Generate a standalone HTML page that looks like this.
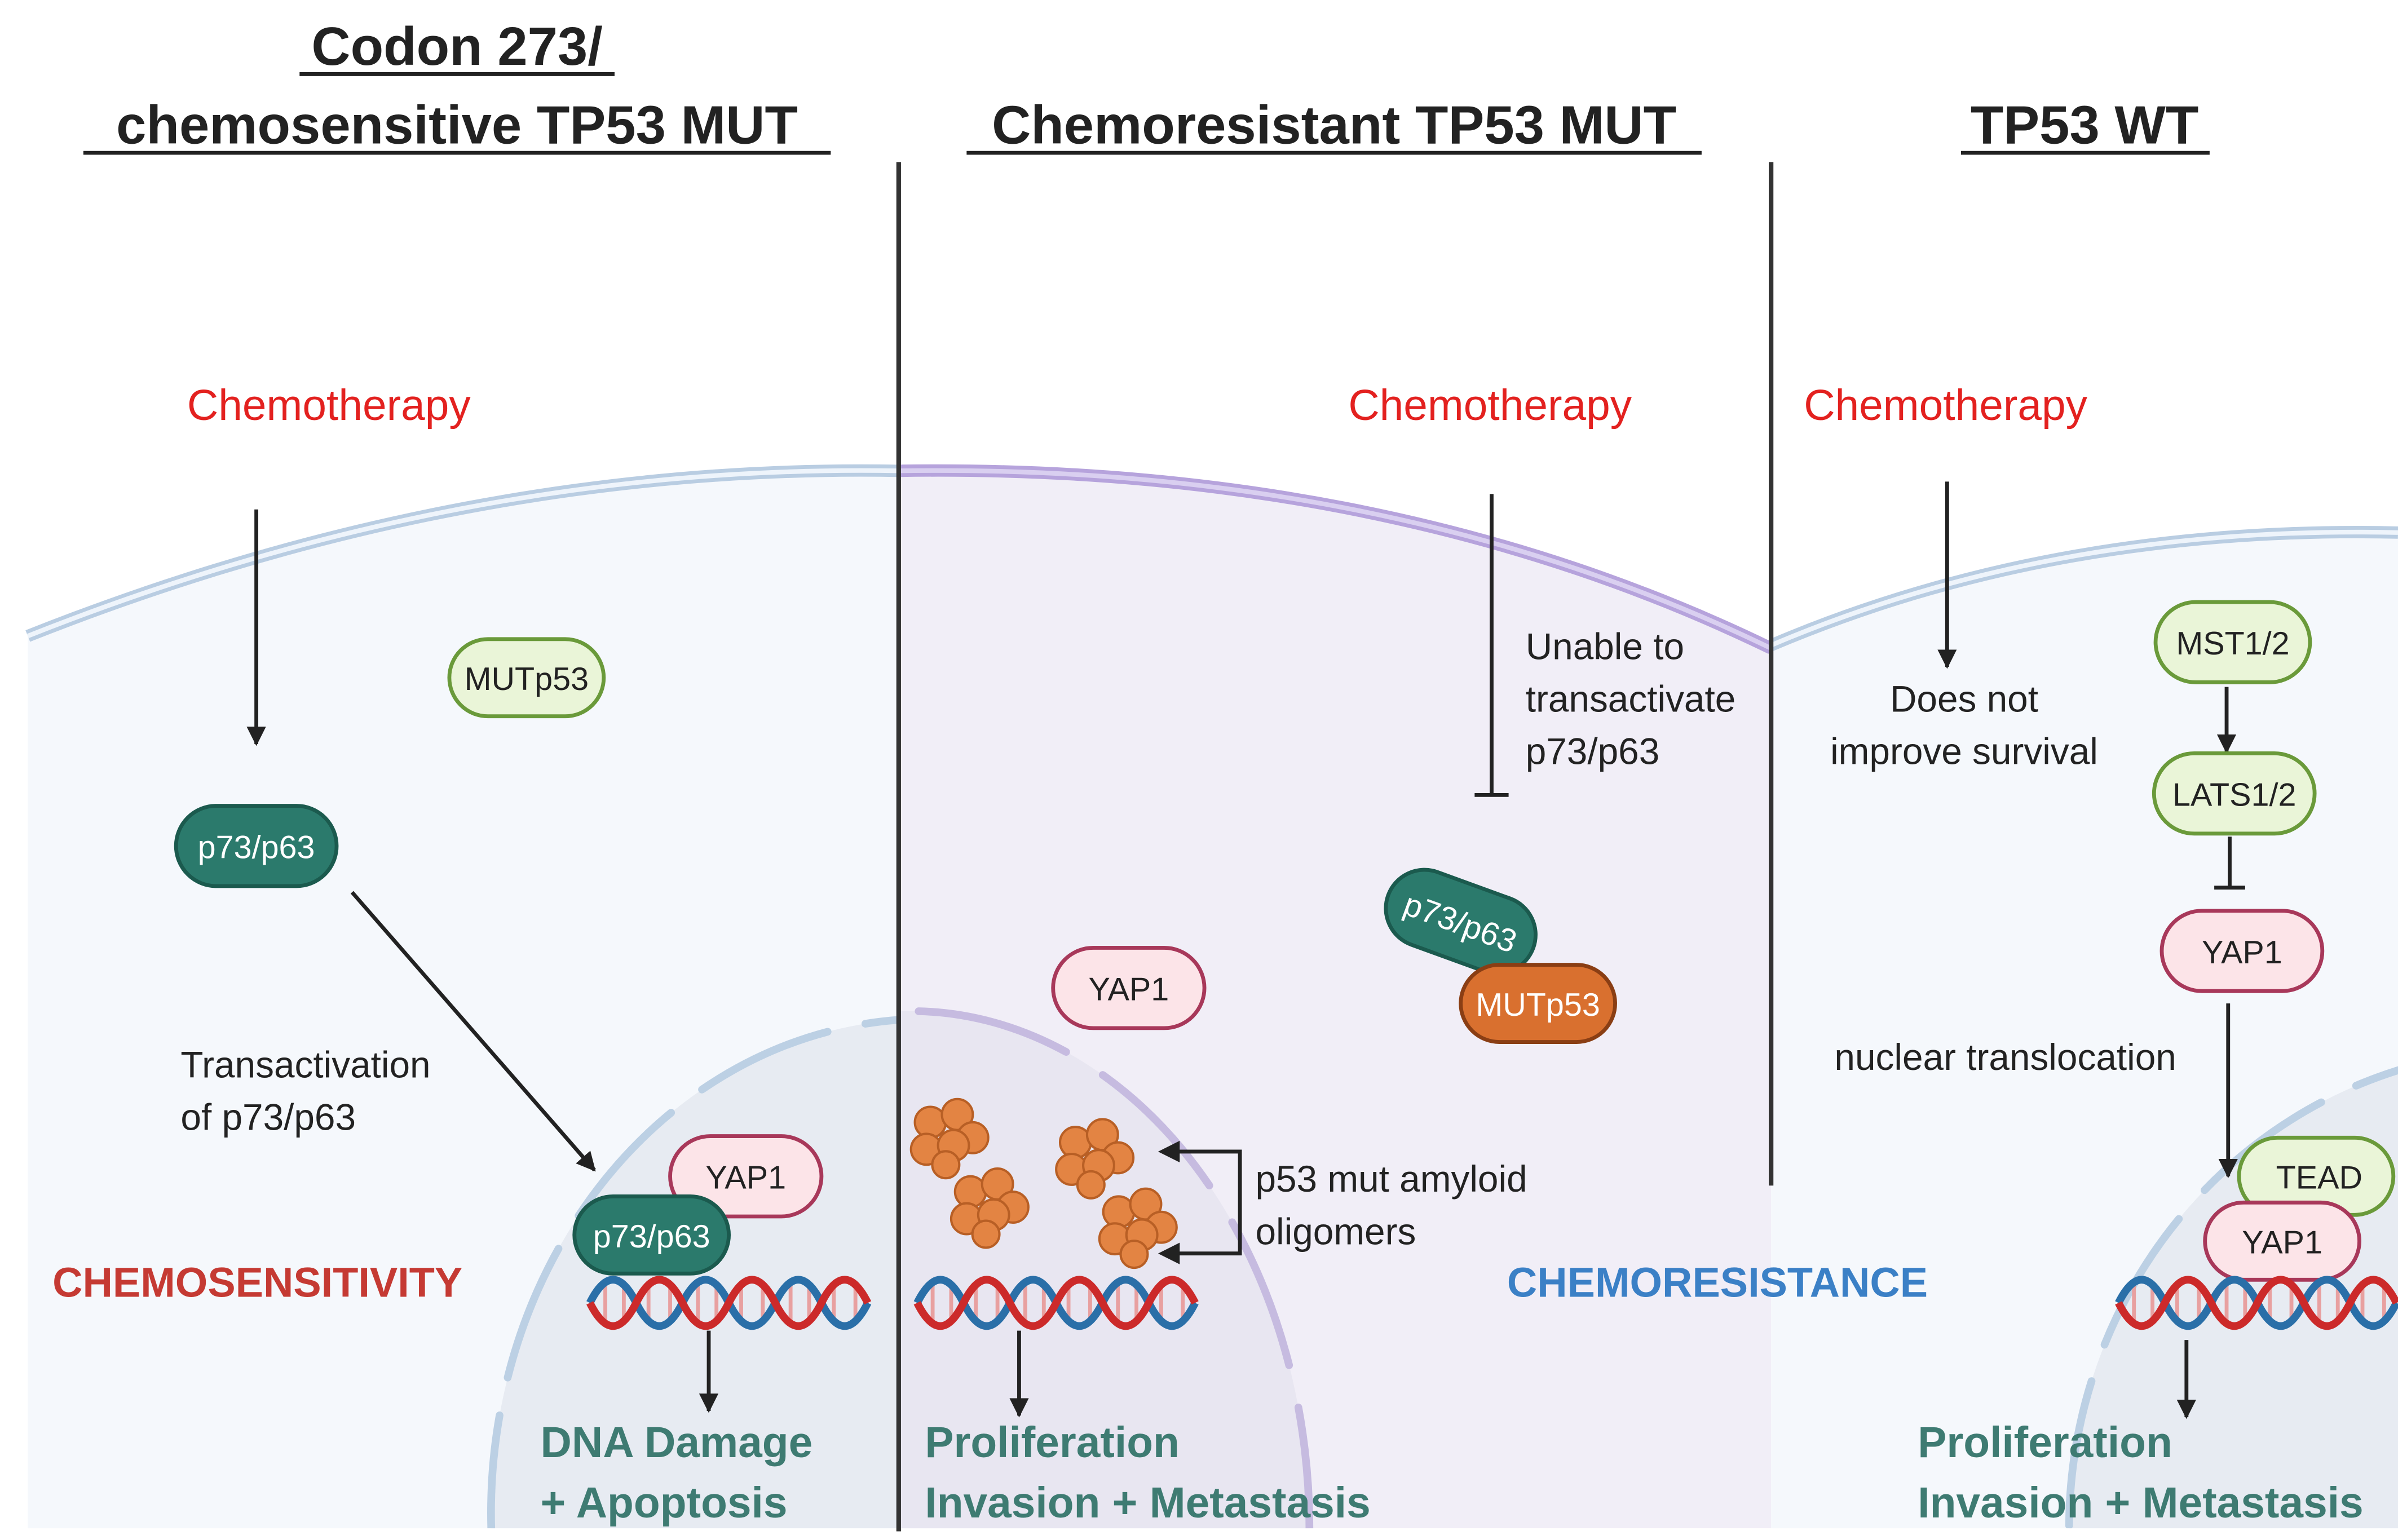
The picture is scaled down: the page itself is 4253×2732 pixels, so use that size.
<!DOCTYPE html>
<html><head><meta charset="utf-8"><style>
html,body{margin:0;padding:0;background:#fff;width:4253px;height:2732px;overflow:hidden}
svg{display:block}
text{font-family:"Liberation Sans",Arial,sans-serif}
</style></head><body>
<svg width="4253" height="2732" viewBox="0 0 1553 997.6" xmlns="http://www.w3.org/2000/svg">
<defs>
<marker id="ah" viewBox="0 0 10 10" refX="9" refY="5" markerWidth="5" markerHeight="5" orient="auto"><path d="M0,0 L10,5 L0,10 z" fill="#222"/></marker>
</defs>
<rect width="1553" height="997.6" fill="#fff"/>
<path d="M18,412 Q300,300 582,305 L582,990 L18,990 Z" fill="#f5f8fc"/>
<path d="M582,305 Q900,300 1147,420 L1147,990 L582,990 Z" fill="#f1eef7"/>
<path d="M1147,418 Q1330,340 1553,345 L1553,990 L1147,990 Z" fill="#f5f8fc"/>
<path d="M18,412 Q300,300 582,305" fill="none" stroke="#b9cde2" stroke-width="8"/>
<path d="M18,412 Q300,300 582,305" fill="none" stroke="#eef4fb" stroke-width="3"/>
<path d="M582,305 Q900,300 1147,420" fill="none" stroke="#b6a3dc" stroke-width="8"/>
<path d="M582,305 Q900,300 1147,420" fill="none" stroke="#d9cff0" stroke-width="3"/>
<path d="M1147,418 Q1330,340 1553,345" fill="none" stroke="#b9cde2" stroke-width="8"/>
<path d="M1147,418 Q1330,340 1553,345" fill="none" stroke="#eef4fb" stroke-width="3"/>
<clipPath id="c1"><rect x="18" y="0" width="564" height="990"/></clipPath>
<clipPath id="c2"><rect x="582" y="0" width="565" height="990"/></clipPath>
<clipPath id="c3"><rect x="1147" y="0" width="406" height="990"/></clipPath>
<g clip-path="url(#c1)">
<ellipse cx="600" cy="980" rx="282" ry="320" fill="#e7ebf2"/>
<ellipse cx="600" cy="980" rx="282" ry="320" fill="none" stroke="#bcd0e4" stroke-width="5" stroke-dasharray="90 25" stroke-linecap="round"/>
</g>
<g clip-path="url(#c2)">
<ellipse cx="590" cy="990" rx="258" ry="335" fill="#e8e6f1"/>
<ellipse cx="590" cy="990" rx="258" ry="335" fill="none" stroke="#c6bbe0" stroke-width="5" stroke-dasharray="100 28" stroke-linecap="round"/>
</g>
<g clip-path="url(#c3)">
<ellipse cx="1640" cy="990" rx="300" ry="310" fill="#e7ebf2"/>
<ellipse cx="1640" cy="990" rx="300" ry="310" fill="none" stroke="#bcd0e4" stroke-width="5" stroke-dasharray="95 25" stroke-linecap="round"/>
</g>
<line x1="582" y1="105" x2="582" y2="992" stroke="#333" stroke-width="3"/>
<line x1="1147" y1="105" x2="1147" y2="768" stroke="#333" stroke-width="3"/>
<g font-weight="bold" font-size="35" fill="#222" text-anchor="middle">
<text x="296" y="42">Codon 273/</text>
<text x="296" y="93">chemosensitive TP53  MUT</text>
<text x="864" y="93">Chemoresistant TP53 MUT</text>
<text x="1350" y="93">TP53 WT</text>
</g>
<g stroke="#222" stroke-width="2.5">
<line x1="194" y1="48" x2="398" y2="48"/>
<line x1="54" y1="99" x2="538" y2="99"/>
<line x1="626" y1="99" x2="1102" y2="99"/>
<line x1="1270" y1="99" x2="1431" y2="99"/>
</g>
<g fill="#e3211f" font-size="28" text-anchor="middle">
<text x="213" y="272">Chemotherapy</text>
<text x="965" y="272">Chemotherapy</text>
<text x="1260" y="272">Chemotherapy</text>
</g>
<g stroke="#222" stroke-width="2.5" fill="none">
<line x1="166" y1="330" x2="166" y2="482" marker-end="url(#ah)"/>
<line x1="228" y1="578" x2="385" y2="758" marker-end="url(#ah)"/>
<line x1="459" y1="862" x2="459" y2="914" marker-end="url(#ah)"/>
<line x1="660" y1="862" x2="660" y2="917" marker-end="url(#ah)"/>
<line x1="966" y1="320" x2="966" y2="515"/>
<line x1="955" y1="515" x2="977" y2="515"/>
<line x1="1261" y1="312" x2="1261" y2="432" marker-end="url(#ah)"/>
<line x1="1442" y1="445" x2="1442" y2="487" marker-end="url(#ah)"/>
<line x1="1444" y1="542" x2="1444" y2="575"/>
<line x1="1434" y1="575" x2="1454" y2="575"/>
<line x1="1443" y1="650" x2="1443" y2="762" marker-end="url(#ah)"/>
<line x1="1416" y1="868" x2="1416" y2="918" marker-end="url(#ah)"/>
<polyline points="755,746 803,746 803,812 755,812"/>
</g>
<path d="M750,746 l14,-7 l0,14 z M750,812 l14,-7 l0,14 z" fill="#222"/>
<g font-size="24" fill="#222">
<text x="117" y="698">Transactivation</text>
<text x="117" y="732">of p73/p63</text>
<text x="813" y="772">p53 mut amyloid</text>
<text x="813" y="806">oligomers</text>
<text x="988" y="427">Unable to</text>
<text x="988" y="461">transactivate</text>
<text x="988" y="495">p73/p63</text>
<text x="1272" y="461" text-anchor="middle">Does not</text>
<text x="1272" y="495" text-anchor="middle">improve survival</text>
<text x="1188" y="693">nuclear translocation</text>
</g>
<text x="34" y="840" font-size="27" font-weight="bold" fill="#c53a33">CHEMOSENSITIVITY</text>
<text x="976" y="840" font-size="27" font-weight="bold" fill="#3b80c6">CHEMORESISTANCE</text>
<g font-size="28" font-weight="bold" fill="#3e7b72">
<text x="350" y="944">DNA Damage</text>
<text x="350" y="983">+ Apoptosis</text>
<text x="599" y="944">Proliferation</text>
<text x="599" y="983">Invasion + Metastasis</text>
<text x="1242" y="944">Proliferation</text>
<text x="1242" y="983">Invasion + Metastasis</text>
</g>
<g font-size="21" text-anchor="middle">
<rect x="291" y="414" width="100" height="50" rx="25" fill="#eaf5d8" stroke="#6a9a3a" stroke-width="2.5"/>
<text x="341" y="447" fill="#222">MUTp53</text>
<rect x="114" y="522" width="104" height="52" rx="26" fill="#2b7a6c" stroke="#1b5a4e" stroke-width="2.5"/>
<text x="166" y="556" fill="#fff">p73/p63</text>
<rect x="434" y="736" width="98" height="52" rx="26" fill="#fce4e8" stroke="#a8385a" stroke-width="2.5"/>
<text x="483" y="770" fill="#222">YAP1</text>
<rect x="372" y="775" width="100" height="50" rx="25" fill="#2b7a6c" stroke="#1b5a4e" stroke-width="2.5"/>
<text x="422" y="808" fill="#fff">p73/p63</text>
<rect x="682" y="614" width="98" height="52" rx="26" fill="#fce4e8" stroke="#a8385a" stroke-width="2.5"/>
<text x="731" y="648" fill="#222">YAP1</text>
<g transform="rotate(20 946 597)">
<rect x="896" y="572" width="100" height="50" rx="25" fill="#2b7a6c" stroke="#1b5a4e" stroke-width="2.5"/>
<text x="946" y="605" fill="#fff">p73/p63</text>
</g>
<rect x="946" y="625" width="100" height="50" rx="25" fill="#d9702f" stroke="#8a3e14" stroke-width="2.5"/>
<text x="996" y="658" fill="#fff">MUTp53</text>
<rect x="1396" y="390" width="100" height="52" rx="26" fill="#eaf5d8" stroke="#6a9a3a" stroke-width="2.5"/>
<text x="1446" y="424" fill="#222">MST1/2</text>
<rect x="1395" y="488" width="104" height="52" rx="26" fill="#eaf5d8" stroke="#6a9a3a" stroke-width="2.5"/>
<text x="1447" y="522" fill="#222">LATS1/2</text>
<rect x="1400" y="590" width="104" height="52" rx="26" fill="#fce4e8" stroke="#a8385a" stroke-width="2.5"/>
<text x="1452" y="624" fill="#222">YAP1</text>
<rect x="1450" y="737" width="100" height="50" rx="25" fill="#eaf5d8" stroke="#6a9a3a" stroke-width="2.5"/>
<text x="1502" y="770" fill="#222">TEAD</text>
<rect x="1428" y="779" width="100" height="50" rx="25" fill="#fce4e8" stroke="#a8385a" stroke-width="2.5"/>
<text x="1478" y="812" fill="#222">YAP1</text>
</g>
<g fill="#e38443" stroke="#b85f25" stroke-width="1.2">
<g id="cl" transform="translate(615,737) scale(1.25)"><circle cx="-10" cy="-8" r="8"/><circle cx="4" cy="-12" r="8"/><circle cx="12" cy="0" r="8"/><circle cx="-12" cy="6" r="8"/><circle cx="2" cy="4" r="8"/><circle cx="-2" cy="14" r="7"/></g>
<g transform="translate(709,750) scale(1.25)"><circle cx="-10" cy="-8" r="8"/><circle cx="4" cy="-12" r="8"/><circle cx="12" cy="0" r="8"/><circle cx="-12" cy="6" r="8"/><circle cx="2" cy="4" r="8"/><circle cx="-2" cy="14" r="7"/></g>
<g transform="translate(641,782) scale(1.25)"><circle cx="-10" cy="-8" r="8"/><circle cx="4" cy="-12" r="8"/><circle cx="12" cy="0" r="8"/><circle cx="-12" cy="6" r="8"/><circle cx="2" cy="4" r="8"/><circle cx="-2" cy="14" r="7"/></g>
<g transform="translate(737,795) scale(1.25)"><circle cx="-10" cy="-8" r="8"/><circle cx="4" cy="-12" r="8"/><circle cx="12" cy="0" r="8"/><circle cx="-12" cy="6" r="8"/><circle cx="2" cy="4" r="8"/><circle cx="-2" cy="14" r="7"/></g>
</g>
<g id="dna" fill="none" stroke-width="5">
<g stroke="#e8a0a0" stroke-width="2.5">
<path d="M392,830v28 M404,830v28 M420,830v28 M434,830v28 M452,830v28 M464,830v28 M480,830v28 M494,830v28 M512,830v28 M524,830v28 M540,830v28 M554,830v28"/>
</g>
<path d="M382,844 Q397,814 412,844 T442,844 T472,844 T502,844 T532,844 T562,844" stroke="#2a6fa8"/>
<path d="M382,844 Q397,874 412,844 T442,844 T472,844 T502,844 T532,844 T562,844" stroke="#cc2a2a"/>
</g>
<use href="#dna" transform="translate(212,0)"/>
<use href="#dna" transform="translate(990,0)"/>
</svg>
</body></html>
